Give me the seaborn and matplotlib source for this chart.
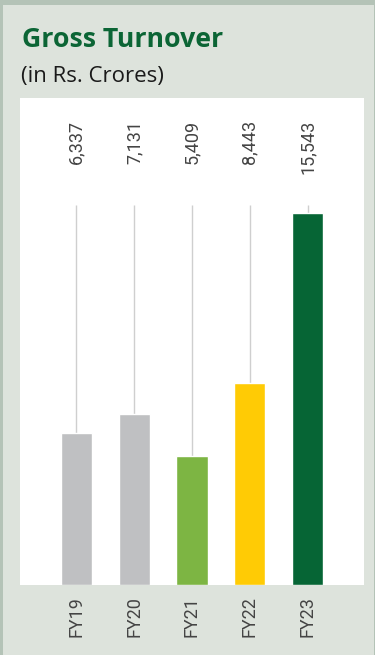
import matplotlib
matplotlib.use("Agg")
import matplotlib.pyplot as plt
import seaborn as sns
import pandas as pd
from matplotlib.patches import Rectangle

categories = ["FY19", "FY20", "FY21", "FY22", "FY23"]
values = [6337, 7131, 5409, 8443, 15543]
value_labels = ["6,337", "7,131", "5,409", "8,443", "15,543"]
colors = ["#bfc0c2", "#bfc0c2", "#7db543", "#ffcb05", "#066535"]

sns.set_theme(style="white")
plt.rcParams["font.family"] = ["Open Sans", "DejaVu Sans"]

W, H = 375, 655
fig = plt.figure(figsize=(W / 100, H / 100), dpi=100)
fig.patch.set_facecolor("#dde3dc")

# borders
fig.add_artist(Rectangle((0, 1 - 5 / H), 1, 5 / H, transform=fig.transFigure,
                         facecolor="#b4c3b7", edgecolor="none", zorder=0))
fig.add_artist(Rectangle((0, 0), 3 / W, 1, transform=fig.transFigure,
                         facecolor="#b4c3b7", edgecolor="none", zorder=0))
fig.add_artist(Rectangle((1 - 1 / W, 0), 1 / W, 1, transform=fig.transFigure,
                         facecolor="#b4c3b7", edgecolor="none", zorder=0))

ax = fig.add_axes([20 / W, (H - 585) / H, 344 / W, 487 / H])
ax.set_facecolor("white")

df = pd.DataFrame({"cat": categories, "val": values})
sns.barplot(data=df, x="cat", y="val", hue="cat", palette=colors,
            legend=False, width=0.537, ax=ax, saturation=1)

ax.set_xlim(-0.978, 4.978)
ax.set_ylim(0, 20350)
for s in ax.spines.values():
    s.set_visible(False)
ax.set_yticks([])
ax.set_xlabel("")
ax.set_ylabel("")
ax.tick_params(axis="x", length=0, pad=8)
ax.set_xticks(range(len(categories)))
ax.set_xticklabels(categories, rotation=90, fontsize=13, color="#444444",
                   family=["Roboto", "DejaVu Sans"], fontweight="normal",
                   va="top", ha="center")

# connector lines and value labels
line_top = 15877
ax.vlines(range(len(categories)), values, line_top, colors="#cfcfcf",
          linewidth=1, zorder=0)
for i, lab in enumerate(value_labels):
    ax.text(i, 19430, lab, rotation=90, ha="center", va="top", fontsize=13,
            color="#444444", family=["Roboto", "DejaVu Sans"], fontweight="normal")

fig.text(22 / W, 1 - 47 / H, "Gross Turnover", fontsize=19.2, fontweight="bold",
         color="#0b6535", ha="left", va="baseline")
fig.text(21 / W, 1 - 82 / H, "(in Rs. Crores)", fontsize=16, color="#1a1a1a",
         ha="left", va="baseline")

fig.savefig("out.png", dpi=100, facecolor=fig.get_facecolor())
